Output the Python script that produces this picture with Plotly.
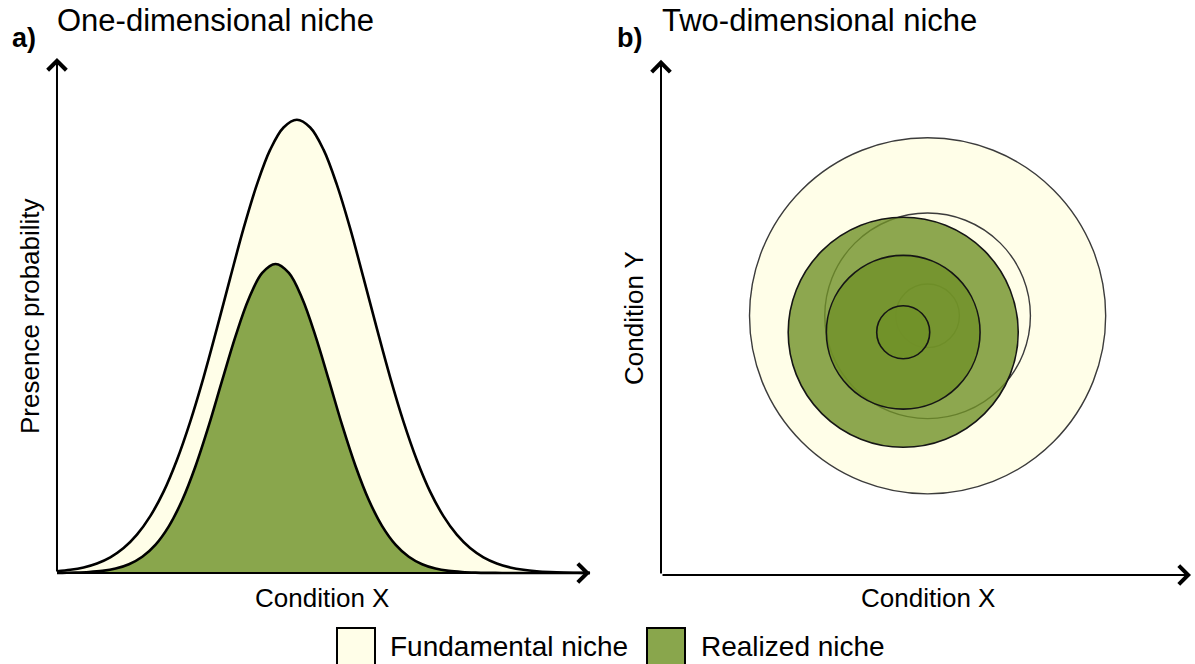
import plotly.graph_objects as go

# ---------------- data ----------------
# Panel a: presence probability along condition X
fund_x = [0, 0.25, 0.5, 0.75, 1, 1.25, 1.5, 1.75, 2, 2.25, 2.5, 2.75, 3, 3.25, 3.5, 3.75, 4, 4.25,
          4.5, 4.75, 5, 5.25, 5.5, 5.75, 6, 6.25, 6.5, 6.75, 7, 7.25, 7.5, 7.75, 8, 8.25, 8.5,
          8.75, 9, 9.25, 9.5, 9.75, 10]
fund_y = [0.0034, 0.0062, 0.0109, 0.0186, 0.0305, 0.0485, 0.0745, 0.1105, 0.158, 0.2195, 0.294,
          0.380, 0.475, 0.573, 0.669, 0.754, 0.822, 0.865, 0.880, 0.865, 0.822, 0.754, 0.669,
          0.573, 0.475, 0.380, 0.294, 0.2195, 0.158, 0.1105, 0.0745, 0.0485, 0.0305, 0.0186,
          0.0109, 0.0062, 0.0034, 0.0018, 0.0009, 0.0005, 0.0002]
real_x = [0, 0.1, 0.35, 0.6, 0.85, 1.1, 1.35, 1.6, 1.85, 2.1, 2.35, 2.6, 2.85, 3.1, 3.35, 3.6, 3.85,
          4.1, 4.35, 4.6, 4.85, 5.1, 5.35, 5.6, 5.85, 6.1, 6.35, 6.6, 6.85, 7.1, 7.35, 7.6, 7.85,
          8.1, 8.35, 8.6, 10]
real_y = [0.0, 0.0003, 0.0008, 0.0019, 0.0041, 0.0086, 0.0170, 0.0316, 0.0552, 0.0911, 0.1417,
          0.2078, 0.287, 0.3745, 0.460, 0.533, 0.5826, 0.600, 0.5826, 0.533, 0.460, 0.3745, 0.287,
          0.2078, 0.1417, 0.0911, 0.0552, 0.0316, 0.0170, 0.0086, 0.0041, 0.0019, 0.0008, 0.0003,
          0.0001, 0.0, 0.0]

# Panel b: niche contours (centre x, centre y, radius) in condition units
fund_cx = [5.03, 5.03, 5.03]
fund_cy = [4.89, 4.89, 4.89]
fund_r = [3.36, 1.94, 0.60]
real_cx = [4.57, 4.57, 4.57]
real_cy = [4.58, 4.58, 4.58]
real_r = [2.17, 1.45, 0.50]

legend_labels = ["Fundamental niche", "Realized niche"]
panel_labels = ["a)", "b)"]
panel_titles = ["One-dimensional niche", "Two-dimensional niche"]

# ---------------- style ----------------
W, H = 1195, 664
YELLOW = "rgb(255,254,232)"
GREEN = "rgb(137,166,76)"
GREEN_A = "rgba(112,145,40,0.8)"
FONT = "Liberation Sans, Arial, sans-serif"


def px(x):
    return x / W


def py(y):
    return 1 - y / H


fig = go.Figure()

fig.add_trace(go.Scatter(x=fund_x, y=fund_y, mode="lines", line=dict(color="black", width=2.6, shape="spline"),
                         fill="tozeroy", fillcolor=YELLOW, xaxis="x", yaxis="y", showlegend=False,
                         hoverinfo="skip"))
fig.add_trace(go.Scatter(x=real_x, y=real_y, mode="lines", line=dict(color="black", width=2.6, shape="spline"),
                         fill="tozeroy", fillcolor=GREEN, xaxis="x", yaxis="y", showlegend=False,
                         hoverinfo="skip"))
# invisible trace so the second pair of axes exists
fig.add_trace(go.Scatter(x=[0], y=[0], mode="markers", marker=dict(opacity=0), xaxis="x2", yaxis="y2",
                         showlegend=False, hoverinfo="skip"))

shapes = []
for cx, cy, r in zip(fund_cx, fund_cy, fund_r):
    shapes.append(dict(type="circle", xref="x2", yref="y2", x0=cx - r, x1=cx + r, y0=cy - r, y1=cy + r,
                       fillcolor=YELLOW, line=dict(color="#3c3c3c", width=1.4), layer="above"))
for cx, cy, r in zip(real_cx, real_cy, real_r):
    shapes.append(dict(type="circle", xref="x2", yref="y2", x0=cx - r, x1=cx + r, y0=cy - r, y1=cy + r,
                       fillcolor=GREEN_A, line=dict(color="#151515", width=1.6), layer="above"))

# legend boxes
shapes.append(dict(type="rect", xref="paper", yref="paper", x0=px(337), x1=px(375), y0=py(672), y1=py(628),
                   fillcolor=YELLOW, line=dict(color="black", width=2)))
shapes.append(dict(type="rect", xref="paper", yref="paper", x0=px(647), x1=px(685), y0=py(672), y1=py(628),
                   fillcolor=GREEN, line=dict(color="black", width=2)))

ann = []
# axis arrows
arrow = dict(text="", showarrow=True, arrowhead=4, arrowsize=1.8, arrowwidth=2, arrowcolor="black", standoff=0)
ann.append(dict(arrow, x=10, y=0, ax=0, ay=0, xref="x", yref="y", axref="x", ayref="y"))
ann.append(dict(arrow, x=0, y=1, ax=0, ay=0, xref="x", yref="y", axref="x", ayref="y"))
ann.append(dict(arrow, x=10, y=0, ax=0, ay=0, xref="x2", yref="y2", axref="x2", ayref="y2"))
ann.append(dict(arrow, x=0, y=9.72, ax=0, ay=0, xref="x2", yref="y2", axref="x2", ayref="y2"))

txt = dict(showarrow=False, xref="paper", yref="paper")
ann.append(dict(txt, text="<b>" + panel_labels[0] + "</b>", x=px(10), y=py(38), xanchor="left", yanchor="middle",
                font=dict(family=FONT, size=27, color="black")))
ann.append(dict(txt, text=panel_titles[0], x=px(55), y=py(20), xanchor="left", yanchor="middle",
                font=dict(family=FONT, size=31, color="black")))
ann.append(dict(txt, text="<b>" + panel_labels[1] + "</b>", x=px(615), y=py(38), xanchor="left", yanchor="middle",
                font=dict(family=FONT, size=27, color="black")))
ann.append(dict(txt, text=panel_titles[1], x=px(660), y=py(20), xanchor="left", yanchor="middle",
                font=dict(family=FONT, size=31, color="black")))
ann.append(dict(txt, text="Presence probability", x=px(30), y=py(316), textangle=-90, xanchor="center",
                yanchor="middle", font=dict(family=FONT, size=26, color="black")))
ann.append(dict(txt, text="Condition X", x=px(322), y=py(598), xanchor="center", yanchor="middle",
                font=dict(family=FONT, size=26, color="black")))
ann.append(dict(txt, text="Condition X", x=px(928), y=py(598), xanchor="center", yanchor="middle",
                font=dict(family=FONT, size=26, color="black")))
ann.append(dict(txt, text="Condition Y", x=px(634), y=py(318), textangle=-90, xanchor="center",
                yanchor="middle", font=dict(family=FONT, size=26, color="black")))
ann.append(dict(txt, text=legend_labels[0], x=px(388), y=py(646), xanchor="left", yanchor="middle",
                font=dict(family=FONT, size=28, color="black")))
ann.append(dict(txt, text=legend_labels[1], x=px(699), y=py(646), xanchor="left", yanchor="middle",
                font=dict(family=FONT, size=28, color="black")))

hidden = dict(showgrid=False, zeroline=False, showticklabels=False, showline=False, ticks="", fixedrange=True)

fig.update_layout(
    width=W, height=H, margin=dict(l=0, r=0, t=0, b=0),
    paper_bgcolor="white", plot_bgcolor="rgba(0,0,0,0)",
    xaxis=dict(hidden, range=[-0.3, 10.2], domain=[px(41), px(600.7)]),
    yaxis=dict(hidden, range=[-0.03, 1.02], domain=[py(588.45), py(47.7)]),
    xaxis2=dict(hidden, range=[-0.3, 10.03], domain=[px(645.1), px(1192.6)]),
    yaxis2=dict(hidden, range=[-0.3, 9.9], domain=[py(590.9), py(50.3)]),
    shapes=shapes, annotations=ann, showlegend=False,
)

fig.write_html("out.html", config={"displayModeBar": False},
               post_script="document.body.style.margin='0';document.body.style.padding='0';"
                           "document.body.style.overflow='hidden';")
